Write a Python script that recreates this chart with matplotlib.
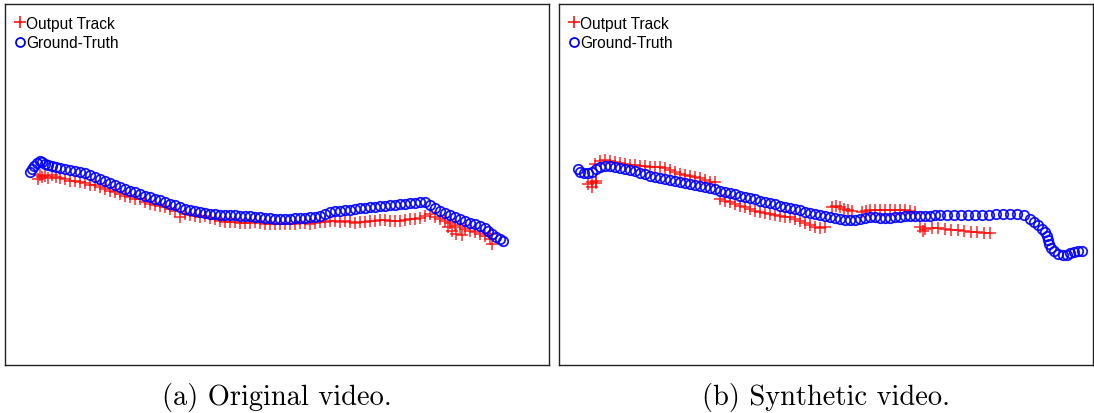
import numpy as np
import matplotlib.pyplot as plt

# tracks in video-frame pixel coordinates (x, y), y grows downward
# (a) original video
gt_a = [(25,168),(27,165),(29,162),(32,159),(35,157),(37,158),(40,160),(43,161),(47,162),(51,163),
        (55,164),(60,165),(65,166),(70,167),(75,168),(80,169),(85,171),(90,173),(95,175),(100,177),
        (105,179),(110,181),(115,183),(120,185),(125,187),(130,188),(135,190),(140,192),(145,193),(150,195),
        (155,196),(160,198),(165,200),(170,201),(175,203),(180,205),(185,206),(190,207),(195,208),(200,209),
        (205,210),(210,210),(215,211),(220,211),(225,211),(230,211),(235,212),(240,212),(245,212),(250,213),
        (255,213),(260,214),(265,214),(270,215),(275,215),(280,215),(285,215),(290,214),(295,214),(300,214),
        (305,213),(310,213),(315,212),(320,210),(325,208),(330,207),(335,207),(340,206),(345,206),(350,205),
        (355,204),(360,204),(365,203),(370,203),(375,202),(380,202),(385,201),(390,201),(395,200),(400,200),
        (405,199),(410,199),(415,198),(420,198),(425,201),(430,204),(435,207),(440,209),(445,211),(450,213),
        (455,215),(460,217),(465,219),(470,220),(475,222),(480,224),(483,227),(487,230),(491,233),(495,235),
        (498,237)]
out_a = [(33,175),(35,171),(37,173),(40,172),(43,174),(47,171),(51,173),(55,174),(60,175),(65,177),
         (70,177),(75,178),(80,179),(85,181),(90,181),(95,183),(100,185),(105,187),(110,188),(115,190),
         (120,192),(125,193),(130,195),(135,195),(140,198),(145,200),(150,201),(155,202),(160,203),(165,205),
         (170,207),(175,213),(180,210),(185,211),(190,212),(195,213),(200,212),(205,214),(210,215),(215,217),
         (220,218),(225,218),(230,218),(235,219),(240,219),(245,219),(250,218),(255,219),(260,220),(265,220),
         (270,220),(275,220),(280,220),(285,220),(290,220),(295,219),(300,219),(305,220),(310,219),(315,218),
         (320,218),(325,217),(330,217),(335,218),(340,217),(345,218),(350,219),(355,218),(360,218),(365,217),
         (370,217),(375,216),(380,216),(385,217),(390,217),(395,217),(400,216),(405,215),(410,215),(415,214),
         (420,212),(425,210),(430,213),(435,215),(440,217),(445,219),(450,221),(455,223),(460,225),(465,227),
         (470,228),(475,230),(480,232),(485,235),(487,240),(485,230),(443,223),(447,227),(451,230),(457,231)]

# (b) synthetic video
gt_b = [(19,165),(21,168),(25,169),(29,169),(33,168),(37,165),(41,163),(46,162),(51,162),(56,163),
        (61,164),(66,165),(71,166),(76,167),(81,169),(86,170),(91,172),(96,173),(101,174),(106,175),
        (111,176),(116,177),(121,178),(126,179),(131,180),(136,181),(141,182),(146,183),(151,184),(156,185),
        (161,187),(166,188),(171,189),(176,190),(181,192),(186,193),(191,194),(196,195),(201,197),(206,198),
        (211,199),(216,200),(221,202),(226,203),(231,204),(236,205),(241,206),(246,208),(251,209),(256,210),
        (261,211),(266,212),(271,213),(276,214),(281,215),(286,216),(291,216),(296,216),(301,215),(306,214),
        (311,213),(316,213),(321,214),(326,214),(331,214),(336,213),(341,213),(346,212),(351,212),(356,212),
        (361,212),(366,212),(371,212),(376,211),(381,211),(388,211),(395,211),(402,211),(409,211),(416,211),
        (423,211),(430,211),(437,210),(444,210),(451,210),(458,210),(465,211),(471,215),(475,218),(479,221),
        (483,225),(486,228),(488,232),(489,236),(490,240),(492,244),(495,247),(499,250),(504,251),(508,251),
        (511,249),(515,248),(519,247),(523,247)]
out_b = [(29,180),(33,178),(37,177),(33,183),(37,179),
         (36,160),(41,157),(46,156),(51,157),(56,158),(61,159),(66,160),(71,161),(76,161),(81,162),
         (86,162),(91,163),(96,163),(101,163),(106,164),(111,166),(116,168),(121,170),(126,171),(131,172),
         (136,173),(141,174),(146,176),(151,178),(156,178),
         (161,195),(166,197),(171,198),(176,200),(181,202),(186,203),(191,205),(196,207),(201,208),(206,209),
         (211,210),(216,211),(221,212),(226,213),(231,213),(236,215),(241,217),(246,219),(251,221),(256,223),
         (261,224),(266,223),
         (273,203),(277,202),(281,203),(285,205),(289,206),(293,207),
         (303,208),(307,207),(311,206),(316,206),(321,206),(326,206),(331,206),(336,206),(341,206),(346,206),
         (351,207),(356,208),
         (361,223),(364,227),(366,225),(373,224),(379,224),(386,225),(392,226),(399,226),(405,227),(412,228),
         (418,228),(425,229),(431,229)]

captions = ['(a) Original video.', '(b) Synthetic video.']


def draw(ax, gt, out, width, height, caption):
    gt = np.array(gt)
    out = np.array(out)
    ax.plot(out[:, 0], out[:, 1], '+', color='red', ms=9, mew=1.1,
            alpha=0.85, label='Output Track')
    ax.plot(gt[:, 0], gt[:, 1], 'o', mec='blue', mfc='none', ms=6.8, mew=1.3,
            alpha=0.9, label='Ground-Truth')
    ax.set_xlim(0, width)
    ax.set_ylim(height, 0)
    ax.set_xticks([])
    ax.set_yticks([])
    for s in ax.spines.values():
        s.set_color('#222222')
        s.set_linewidth(1.0)
    leg = ax.legend(loc='upper left', frameon=False, handlelength=0.4,
                    handletextpad=0.2, borderaxespad=0.25, labelspacing=0.3,
                    borderpad=0.5, markerscale=0.95,
                    prop={'family': 'Liberation Sans', 'size': 11.2})
    for h in leg.legend_handles:
        h.set_alpha(1)
    ax.text(0.5, -(398 - 366) / 361, caption, transform=ax.transAxes,
            ha='center', va='center', fontsize=20.5, family='cmr10')


fig = plt.figure(figsize=(10.94, 4.14), dpi=100)
ax1 = fig.add_axes([5 / 1094, 1 - 366 / 414, 544 / 1094, 361 / 414])
ax2 = fig.add_axes([559 / 1094, 1 - 366 / 414, 534 / 1094, 361 / 414])
draw(ax1, gt_a, out_a, 544, 361, captions[0])
draw(ax2, gt_b, out_b, 534, 361, captions[1])

fig.savefig('out.png', dpi=100)
